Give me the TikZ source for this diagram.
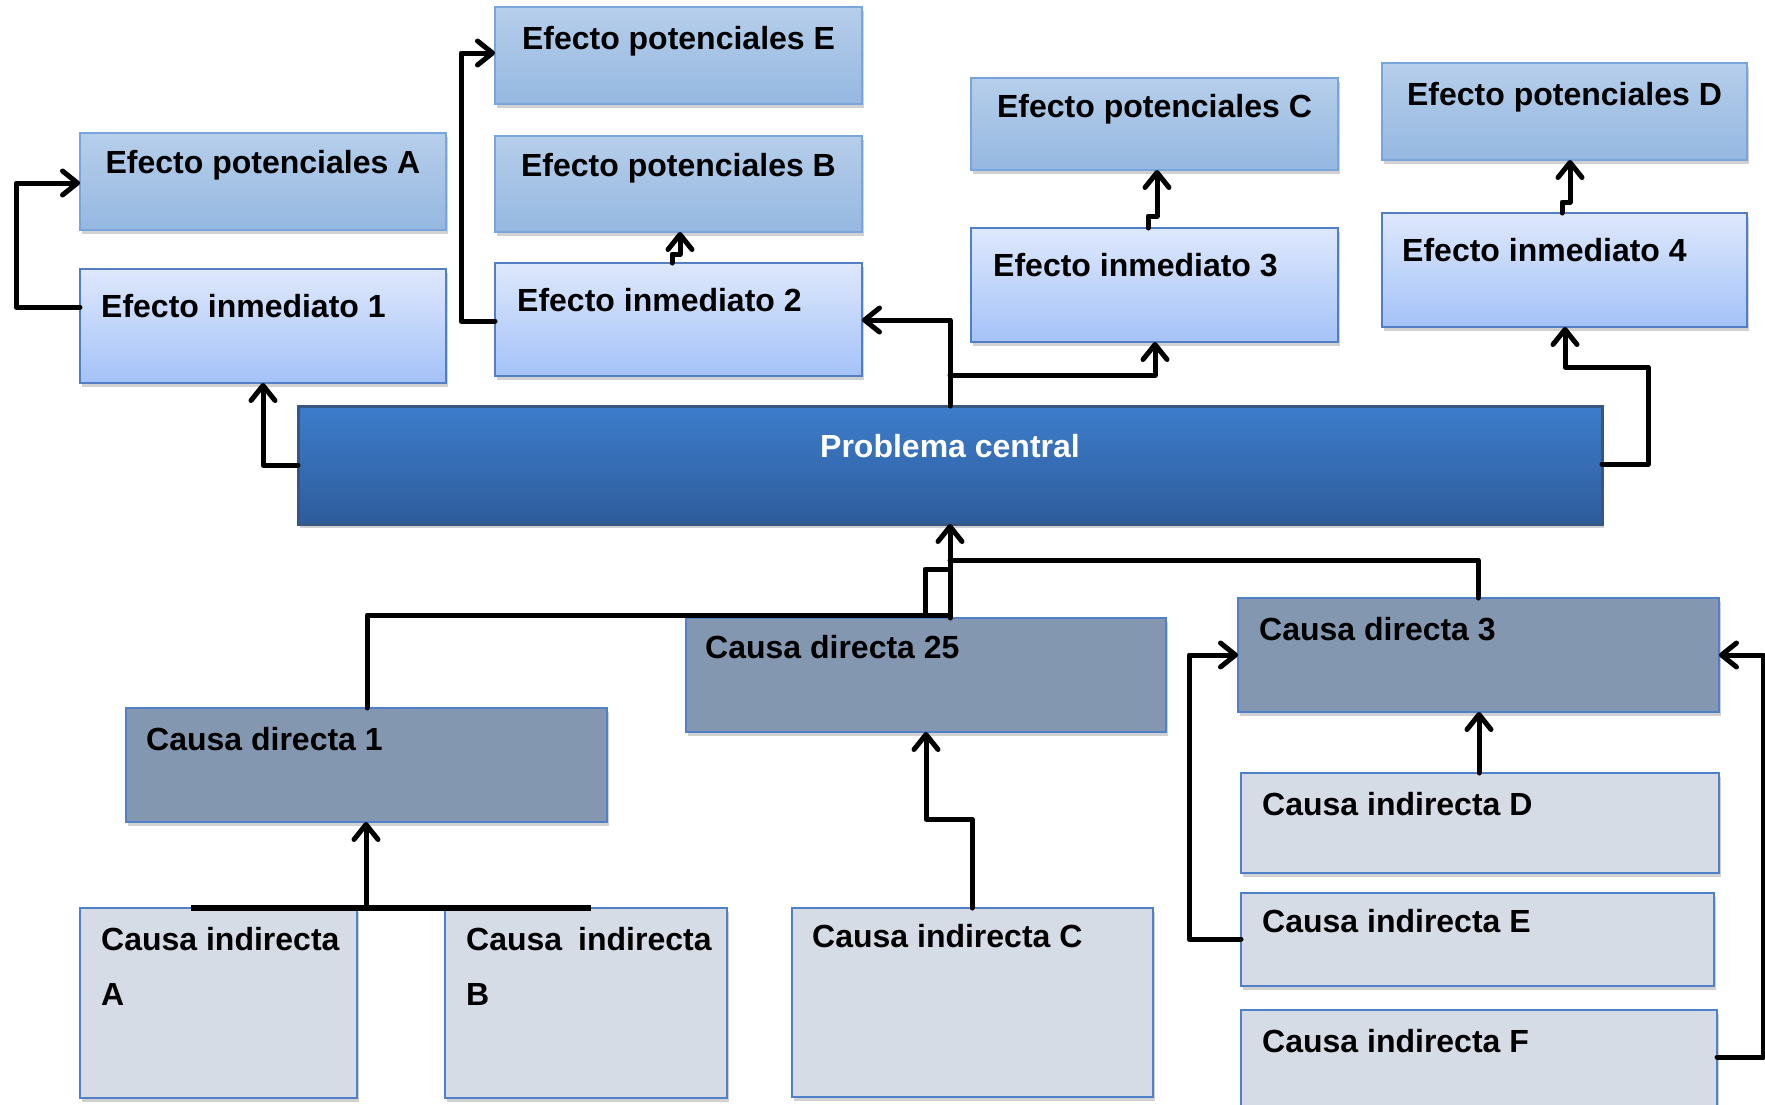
\documentclass[tikz,border=0pt]{standalone}
\usepackage{fontspec}
\setmainfont{Liberation Sans}
\usetikzlibrary{arrows.meta,shadows}
\definecolor{eptop}{RGB}{182,206,234}
\definecolor{epbot}{RGB}{149,184,225}
\definecolor{epline}{RGB}{120,165,220}
\definecolor{eitop}{RGB}{222,232,252}
\definecolor{eibot}{RGB}{164,194,248}
\definecolor{eiline}{RGB}{80,128,195}
\definecolor{pctop}{RGB}{61,125,204}
\definecolor{pcbot}{RGB}{46,92,155}
\definecolor{pcline}{RGB}{56,86,130}
\definecolor{cdfill}{RGB}{132,151,176}
\definecolor{cifill}{RGB}{214,220,229}
\definecolor{cline}{RGB}{80,128,200}
\tikzset{
  basebox/.style={draw, line width=2pt, anchor=north west, inner sep=0pt, outer sep=0pt,
    drop shadow={shadow xshift=2pt, shadow yshift=-4pt, opacity=0.18, fill=black}},
  epbox/.style={basebox, draw=epline, top color=eptop, bottom color=epbot},
  eibox/.style={basebox, draw=eiline, top color=eitop, bottom color=eibot},
  pcbox/.style={basebox, draw=pcline, line width=3pt, top color=pctop, bottom color=pcbot},
  cdbox/.style={basebox, draw=cline, fill=cdfill},
  cibox/.style={basebox, draw=cline, fill=cifill},
  lbl/.style={anchor=base west, inner sep=0pt, font=\fontsize{32}{55}\selectfont\bfseries, align=left},
  clbl/.style={anchor=base, inner sep=0pt, font=\fontsize{32}{55}\selectfont\bfseries},
  conn/.style={line width=5pt, draw=black, line join=round, line cap=round},
  arr/.style={conn, -{Straight Barb[length=15pt,width=24pt,line width=5pt,round]}},
}
\newcommand{\bx}[6]{\node[#1, minimum width=#4pt, minimum height=#5pt] (#6) at (#2,#3) {};}
\begin{document}
\begin{tikzpicture}[x=1pt,y=-1pt]
\useasboundingbox (0,0) rectangle (1765,1104);
\clip (0,0) rectangle (1765,1104);
\fill[white] (0,0) rectangle (1765,1104);
% effects
\bx{epbox}{495}{7}{367}{97}{EPE}
\bx{epbox}{80}{133}{366}{97}{EPA}
\bx{epbox}{495}{136}{367}{96}{EPB}
\bx{eibox}{80}{269}{366}{114}{EIa}
\bx{eibox}{495}{263}{367}{113}{EIb}
\bx{epbox}{971}{78}{367}{92}{EPC}
\bx{eibox}{971}{228}{367}{114}{EIc}
\bx{epbox}{1382}{63}{365}{97}{EPD}
\bx{eibox}{1382}{213}{365}{114}{EId}
% central
\bx{pcbox}{298}{406}{1304}{118}{PC}
% causes
\bx{cdbox}{126}{708}{481}{114}{CDa}
\bx{cdbox}{686}{618}{480}{114}{CDb}
\bx{cdbox}{1238}{598}{481}{114}{CDc}
\bx{cibox}{1241}{773}{478}{100}{CID}
\bx{cibox}{1241}{893}{473}{93}{CIE}
\bx{cibox}{1241}{1010}{476}{110}{CIF}
\bx{cibox}{80}{908}{277}{190}{CIA}
\bx{cibox}{445}{908}{282}{190}{CIB}
\bx{cibox}{792}{908}{361}{189}{CIC}
% labels
\node[clbl] (tEPE) at (EPE.north |- 0,49) {Efecto potenciales E};
\node[clbl] (tEPA) at (EPA.north |- 0,173) {Efecto potenciales A};
\node[clbl] (tEPB) at (EPB.north |- 0,176) {Efecto potenciales B};
\node[clbl] (tEPC) at (EPC.north |- 0,117) {Efecto potenciales C};
\node[clbl] (tEPD) at (EPD.north |- 0,105) {Efecto potenciales D};
\node[lbl] (tEIa) at (101,317) {Efecto inmediato 1};
\node[lbl] (tEIb) at (517,311) {Efecto inmediato 2};
\node[lbl] (tEIc) at (993,276) {Efecto inmediato 3};
\node[lbl] (tEId) at (1402,261) {Efecto inmediato 4};
\node[clbl, text=white] (tPC) at (PC.north |- 0,457) {Problema central};
\node[lbl] (tCDa) at (146,750) {Causa directa 1};
\node[lbl] (tCDb) at (705,658) {Causa directa 25};
\node[lbl] (tCDc) at (1259,640) {Causa directa 3};
\node[lbl] (tCID) at (1262,815) {Causa indirecta D};
\node[lbl] (tCIE) at (1262,932) {Causa indirecta E};
\node[lbl] (tCIF) at (1262,1052) {Causa indirecta F};
\node[lbl] (tCIA) at (101,1005) {Causa indirecta\\A};
\node[lbl] (tCIB) at (466,1005) {Causa\enspace indirecta\\B};
\node[lbl] (tCIC) at (812,947) {Causa indirecta C};
% connectors: effects
\draw[arr] (EIa.west |- 0,307) -- (16,307) -- (16,183) -- (EPA.west |- 0,183);
\draw[arr] (EIb.west |- 0,321) -- (461,321) -- (461,53) -- (EPE.west |- 0,53);
\draw[arr] (EIb.north -| 672,0) -- (672,254) -- (680,254) -- (EPB.south -| 680,0);
\draw[arr] (PC.north -| 950,0) -- (950,320) -- (EIb.east |- 0,320);
\draw[arr] (950,375) -- (1155,375) -- (EIc.south -| 1155,0);
\draw[arr] (EIc.north -| 1148,0) -- (1148,216) -- (1157,216) -- (EPC.south -| 1157,0);
\draw[arr] (EId.north -| 1562,0) -- (1562,202) -- (1570,202) -- (EPD.south -| 1570,0);
\draw[arr] (PC.east |- 0,464) -- (1648,464) -- (1648,367) -- (1565,367) -- (EId.south -| 1565,0);
\draw[arr] (PC.west |- 0,465) -- (263,465) -- (EIa.south -| 263,0);
% connectors: causes
\draw[arr] (CDb.north -| 950,0) -- (PC.south -| 950,0);
\draw[conn] (CDa.north -| 367,0) -- (367,615) -- (950,615);
\draw[conn] (925,615) -- (925,569) -- (950,569);
\draw[conn] (CDc.north -| 1478,0) -- (1478,560) -- (950,560);
\draw[arr] (CIC.north -| 972,0) -- (972,819) -- (926,819) -- (CDb.south -| 926,0);
\draw[line width=6pt] (191,908) -- (591,908);
\draw[arr] (366,908) -- (CDa.south -| 366,0);
\draw[arr] (CID.north -| 1479,0) -- (CDc.south -| 1479,0);
\draw[arr] (CIE.west |- 0,939) -- (1189,939) -- (1189,655) -- (CDc.west |- 0,655);
\draw[arr] (CIF.east |- 0,1057) -- (1763,1057) -- (1763,655) -- (CDc.east |- 0,655);
\end{tikzpicture}
\end{document}
